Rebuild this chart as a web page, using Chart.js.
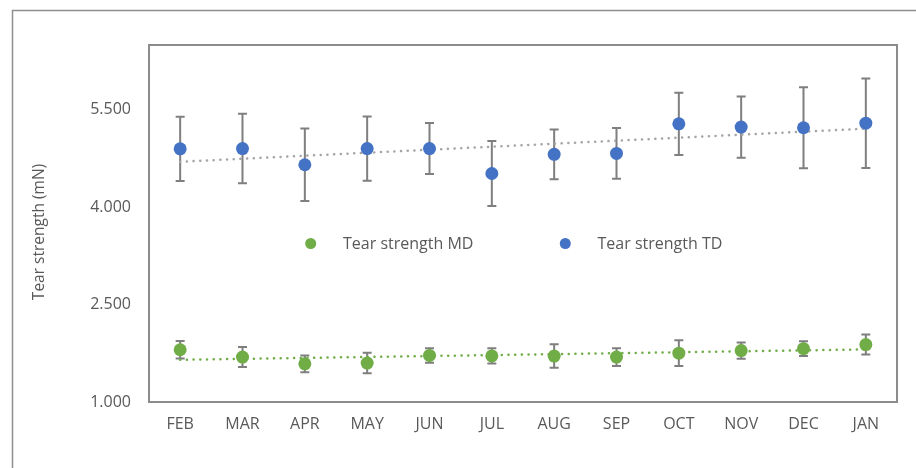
<!DOCTYPE html>
<html>
<head>
<meta charset="utf-8">
<script src="https://cdn.jsdelivr.net/npm/chart.js@4/dist/chart.umd.min.js"></script>
<style>
  html, body { margin: 0; padding: 0; background: #ffffff; }
  #wrap { width: 916px; height: 468px; position: relative; }
</style>
</head>
<body>
<div id="wrap"><canvas id="c" width="916" height="468"></canvas></div>
<script>
// Monthly tear strength (mN), mean values with standard deviation
const months = ['FEB', 'MAR', 'APR', 'MAY', 'JUN', 'JUL', 'AUG', 'SEP', 'OCT', 'NOV', 'DEC', 'JAN'];
const tearMD = [1805, 1692, 1588, 1600, 1718, 1710, 1708, 1692, 1752, 1792, 1822, 1885];
const errMD  = [133, 154, 128, 158, 112, 118, 180, 138, 198, 125, 113, 154];
const tearTD = [4900, 4905, 4655, 4905, 4905, 4520, 4815, 4830, 5285, 5235, 5225, 5295];
const errTD  = [495, 536, 560, 495, 392, 500, 385, 392, 480, 472, 623, 690];
const yTicks = [1000, 2500, 4000, 5500];

const FONT = '"Open Sans", "Noto Sans", sans-serif';
const TEXT = '#595959';
const GREEN = '#70AD47';
const BLUE = '#4472C4';

// Least-squares linear trend over the category index
function linearTrend(values) {
  const n = values.length;
  const mx = (n - 1) / 2;
  const my = values.reduce((a, b) => a + b, 0) / n;
  let sxy = 0, sxx = 0;
  values.forEach((v, i) => { sxy += (i - mx) * (v - my); sxx += (i - mx) * (i - mx); });
  const slope = sxy / sxx;
  return values.map((_, i) => my + slope * (i - mx));
}

const frame = {
  id: 'frame',
  beforeDraw(chart) {
    const ctx = chart.ctx;
    ctx.save();
    ctx.strokeStyle = '#8f8f8f';
    ctx.lineWidth = 1.5;
    ctx.beginPath();
    ctx.moveTo(12.5, 468);
    ctx.lineTo(12.5, 10.5);
    ctx.lineTo(916, 10.5);
    ctx.stroke();
    const a = chart.chartArea;
    ctx.strokeStyle = '#8c8c8c';
    ctx.lineWidth = 2;
    ctx.strokeRect(a.left, a.top, a.right - a.left, a.bottom - a.top);
    // axis title
    ctx.fillStyle = TEXT;
    ctx.font = '15.5px ' + FONT;
    ctx.textAlign = 'center';
    ctx.textBaseline = 'middle';
    ctx.translate(40, 232);
    ctx.rotate(-Math.PI / 2);
    ctx.fillText('Tear strength (mN)', 0, 0);
    ctx.restore();
  },
  beforeDatasetsDraw(chart) {
    const ctx = chart.ctx;
    const xs = chart.scales.x, ys = chart.scales.y;
    ctx.save();
    ctx.strokeStyle = '#7f7f7f';
    ctx.lineWidth = 2;
    const bars = (vals, errs) => {
      vals.forEach((v, i) => {
        const x = xs.getPixelForValue(i);
        const yt = ys.getPixelForValue(v + errs[i]);
        const yb = ys.getPixelForValue(v - errs[i]);
        ctx.beginPath();
        ctx.moveTo(x, yt); ctx.lineTo(x, yb);
        ctx.moveTo(x - 4.5, yt); ctx.lineTo(x + 4.5, yt);
        ctx.moveTo(x - 4.5, yb); ctx.lineTo(x + 4.5, yb);
        ctx.stroke();
      });
    };
    bars(tearTD, errTD);
    bars(tearMD, errMD);
    ctx.restore();
  },
  afterDraw(chart) {
    const ctx = chart.ctx;
    ctx.save();
    ctx.font = '16px ' + FONT;
    ctx.textBaseline = 'middle';
    ctx.textAlign = 'left';
    const items = [
      { label: 'Tear strength MD', color: GREEN, dx: 310.7, tx: 343 },
      { label: 'Tear strength TD', color: BLUE, dx: 565.3, tx: 597.5 }
    ];
    items.forEach(it => {
      ctx.fillStyle = it.color;
      ctx.beginPath();
      ctx.arc(it.dx, 243.5, 5.5, 0, Math.PI * 2);
      ctx.fill();
      ctx.fillStyle = TEXT;
      ctx.fillText(it.label, it.tx, 244);
    });
    ctx.restore();
  }
};

const dotted = { borderWidth: 2.5, borderDash: [0.1, 6.6], borderCapStyle: 'round', pointRadius: 0, fill: false, tension: 0 };

new Chart(document.getElementById('c'), {
  type: 'line',
  data: {
    labels: months,
    datasets: [
      Object.assign({ label: 'Linear (Tear strength TD)', data: linearTrend(tearTD), borderColor: '#a5a5a5', order: 3 }, dotted),
      Object.assign({ label: 'Linear (Tear strength MD)', data: linearTrend(tearMD), borderColor: GREEN, order: 3 }, dotted),
      { label: 'Tear strength TD', data: tearTD, showLine: false, pointRadius: 6.5, pointBackgroundColor: BLUE, pointBorderWidth: 0, borderColor: BLUE, order: 1 },
      { label: 'Tear strength MD', data: tearMD, showLine: false, pointRadius: 6.5, pointBackgroundColor: GREEN, pointBorderWidth: 0, borderColor: GREEN, order: 1 }
    ]
  },
  options: {
    responsive: false,
    animation: false,
    events: [],
    layout: { padding: { top: 45, right: 19, left: 0, bottom: 0 } },
    plugins: { legend: { display: false }, tooltip: { enabled: false } },
    scales: {
      x: {
        type: 'category',
        offset: true,
        grid: { display: false, drawTicks: false },
        border: { display: false },
        ticks: { color: TEXT, font: { family: FONT, size: 16 }, padding: 13, maxRotation: 0 },
        afterFit(s) { s.height = 66; }
      },
      y: {
        min: 1000,
        max: 6500,
        grid: { display: false, drawTicks: false },
        border: { display: false },
        ticks: {
          stepSize: 1500,
          color: TEXT,
          font: { family: FONT, size: 16 },
          padding: 18,
          callback: v => v.toLocaleString('de-DE')
        },
        afterBuildTicks(s) { s.ticks = yTicks.map(v => ({ value: v })); },
        afterFit(s) { s.width = 149; }
      }
    }
  },
  plugins: [frame]
});
</script>
</body>
</html>
